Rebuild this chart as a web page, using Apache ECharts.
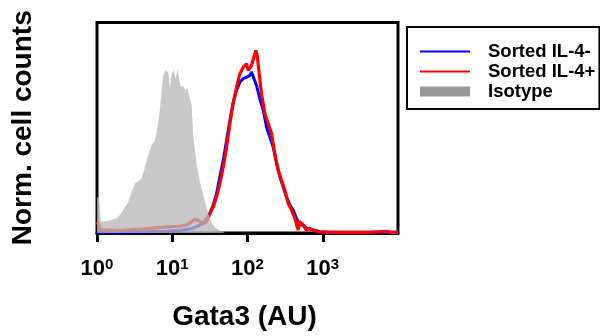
<!DOCTYPE html>
<html>
<head>
<meta charset="utf-8">
<script src="https://cdn.jsdelivr.net/npm/echarts@6/dist/echarts.min.js"></script>
<style>
html,body{margin:0;padding:0;background:#fff;}
#chart{width:600px;height:336px;}
</style>
</head>
<body>
<div id="chart"></div>
<script>
// x values are log10(Gata3 AU)
var tickExponents = [0, 1, 2, 3];
var xTitle = 'Gata3 (AU)';
var yTitle = 'Norm. cell counts';
var seriesNames = ['Sorted IL-4-', 'Sorted IL-4+', 'Isotype'];

var isoX = [0, 0.027, 0.053, 0.106, 0.195, 0.261, 0.305, 0.35, 0.394, 0.416, 0.461, 0.505, 0.549, 0.594, 0.637, 0.682, 0.726, 0.77, 0.793, 0.815, 0.837, 0.859, 0.881, 0.903, 0.925, 0.947, 0.969, 0.991, 1.022, 1.045, 1.071, 1.089, 1.116, 1.147, 1.169, 1.204, 1.235, 1.257, 1.279, 1.324, 1.368, 1.412, 1.434, 1.478, 1.52, 1.56, 1.63, 1.70];
var isoY = [17, 17, 5.4, 5.6, 6, 7, 8.5, 10.9, 13.3, 14.9, 19.6, 23.5, 24.6, 25.9, 31.4, 37, 41.7, 44, 48, 52.7, 59, 68.6, 74.9, 77.3, 78, 76.5, 68.6, 75.7, 77.3, 73.3, 78, 74, 69.3, 70, 67.8, 68.5, 63.8, 60.7, 46.4, 32.2, 24.3, 18, 14.8, 9.3, 5, 3, 1.2, 0];

var blueX = [0, 0.3, 0.6, 0.9, 1.1, 1.25, 1.35, 1.42, 1.46, 1.50, 1.545, 1.589, 1.633, 1.678, 1.722, 1.766, 1.81, 1.855, 1.899, 1.943, 1.987, 2.032, 2.054, 2.076, 2.12, 2.164, 2.209, 2.253, 2.297, 2.341, 2.386, 2.43, 2.474, 2.518, 2.563, 2.607, 2.651, 2.695, 2.74, 2.784, 2.872, 2.96, 3.09, 3.5, 4.0];
var blueY = [0.5, 0.4, 0.5, 0.8, 1.2, 2, 3.5, 5, 7, 9.3, 13.3, 18.8, 26.7, 34.6, 44, 53.6, 62.2, 67.8, 71.7, 73.3, 74, 74.9, 76.5, 75.7, 70, 63.8, 58.3, 50.4, 45.6, 40.9, 33, 26.7, 21.9, 17.2, 13.3, 10.9, 7, 3.8, 3.8, 2.2, 1.4, 0.6, 0.3, 0.3, 0.3];

var redX = [0, 0.015, 0.04, 0.3, 0.6, 0.9, 1.1, 1.2, 1.26, 1.3, 1.34, 1.37, 1.41, 1.456, 1.50, 1.545, 1.589, 1.633, 1.678, 1.722, 1.766, 1.81, 1.855, 1.899, 1.943, 1.987, 2.01, 2.032, 2.054, 2.085, 2.111, 2.129, 2.155, 2.186, 2.231, 2.275, 2.319, 2.363, 2.408, 2.452, 2.496, 2.54, 2.585, 2.629, 2.673, 2.695, 2.74, 2.784, 2.828, 2.894, 2.96, 3.09, 3.6, 3.85, 3.9, 4.0];
var redY = [4, 5, 1.5, 1.2, 1.8, 2.8, 3.2, 4, 5.5, 6.5, 6, 5.4, 4.3, 5.4, 9.3, 12.5, 17.2, 23.5, 31.4, 40.9, 52, 61.5, 69.3, 75.7, 78.8, 80.4, 77.3, 76.5, 79.6, 83.6, 86.7, 84.4, 75.7, 66.2, 56.7, 52, 47.3, 37.8, 29.9, 25.1, 20.4, 14.1, 10.9, 7, 1.4, 5.4, 3.8, 1.4, 2.2, 1, 0.6, 0.3, 0.3, 0.8, 0.3, 0.3];

function pairs(xs, ys) { return xs.map(function (x, i) { return [x, ys[i]]; }); }

var FONT = '"Liberation Sans", Arial, Helvetica, sans-serif';
var chart = echarts.init(document.getElementById('chart'), null, { renderer: 'canvas' });
chart.setOption({
  animation: false,
  backgroundColor: '#fff',
  textStyle: { fontFamily: FONT },
  grid: {
    left: 97, right: 202, top: 22.5, bottom: 103,
    show: true, borderColor: '#000', borderWidth: 3, backgroundColor: 'transparent',
    containLabel: false
  },
  legend: {
    orient: 'vertical',
    left: 407, top: 27,
    padding: [15, 4, 8, 12],
    borderColor: '#000', borderWidth: 2,
    itemWidth: 50, itemHeight: 10, itemGap: 1,
    textStyle: { fontFamily: FONT, fontWeight: 'bold', fontSize: 18.5, color: '#000', lineHeight: 18, padding: [0, 0, 0, 13] },
    data: [
      { name: seriesNames[0] },
      { name: seriesNames[1] },
      { name: seriesNames[2], icon: 'rect', itemStyle: { color: '#999999' } }
    ]
  },
  xAxis: {
    type: 'value', min: 0, max: 4, interval: 1,
    name: xTitle, nameLocation: 'middle', nameGap: 70,
    nameTextStyle: { fontFamily: FONT, fontWeight: 'bold', fontSize: 28, color: '#000', padding: [0, 6, 0, 0] },
    axisLine: { show: true, lineStyle: { color: '#000', width: 3 } },
    axisTick: { show: true, length: 9, inside: false, customValues: tickExponents, lineStyle: { color: '#000', width: 3 } },
    axisLabel: {
      margin: 24, customValues: tickExponents, color: '#000',
      formatter: function (v) { return '{b|10}{s|' + v + '}'; },
      rich: {
        b: { fontFamily: FONT, fontWeight: 'bold', fontSize: 22, color: '#000', lineHeight: 24 },
        s: { fontFamily: FONT, fontWeight: 'bold', fontSize: 15, color: '#000', verticalAlign: 'top', lineHeight: 15 }
      }
    },
    splitLine: { show: false }
  },
  yAxis: {
    type: 'value', min: 0, max: 100,
    name: yTitle, nameLocation: 'middle', nameGap: 60, nameRotate: 90,
    nameTextStyle: { fontFamily: FONT, fontWeight: 'bold', fontSize: 28, color: '#000', padding: [0, 0, 0, 0] },
    axisLine: { show: false }, axisTick: { show: false }, axisLabel: { show: false },
    splitLine: { show: false }
  },
  series: [
    {
      name: seriesNames[0], type: 'line', data: pairs(blueX, blueY),
      symbol: 'circle', showSymbol: false, z: 2,
      itemStyle: { color: 'rgba(0,0,0,0)', borderWidth: 0 },
      lineStyle: { color: '#0000ff', width: 3 }
    },
    {
      name: seriesNames[1], type: 'line', data: pairs(redX, redY),
      symbol: 'circle', showSymbol: false, z: 3,
      itemStyle: { color: 'rgba(0,0,0,0)', borderWidth: 0 },
      lineStyle: { color: '#ff0000', width: 3.2 }
    },
    {
      name: seriesNames[2], type: 'line', data: pairs(isoX, isoY),
      symbol: 'none', z: 4, color: '#999999',
      lineStyle: { width: 0 },
      areaStyle: { color: 'rgba(183,183,183,0.77)', opacity: 1 }
    }
  ]
});
</script>
</body>
</html>
